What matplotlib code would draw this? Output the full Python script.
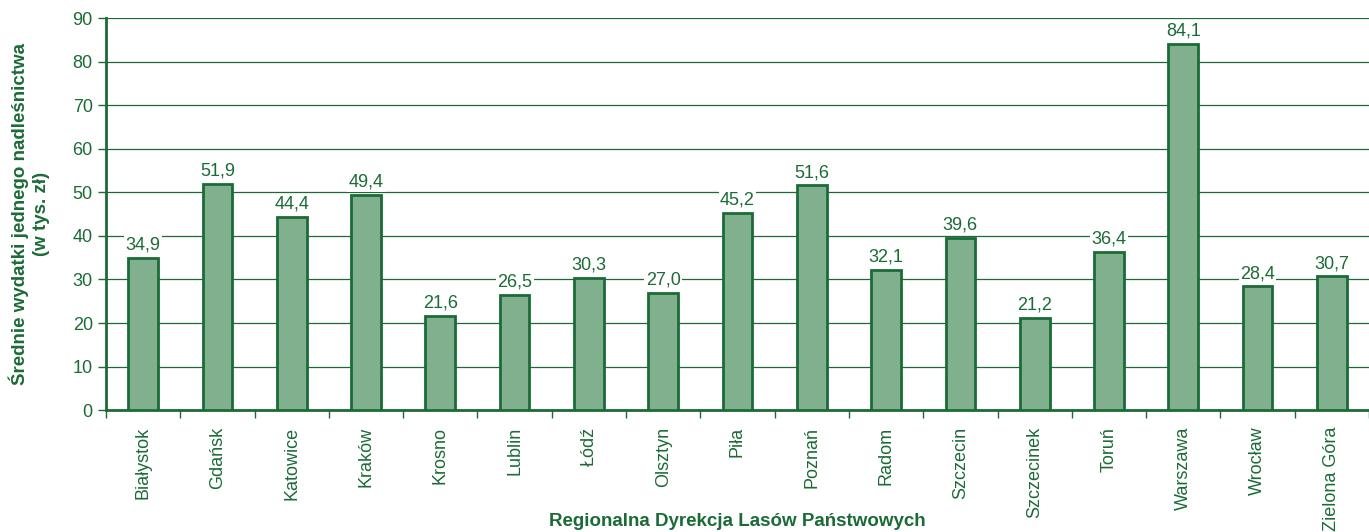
import numpy as np
import matplotlib.pyplot as plt

# dane z wykresu
regions = ['Białystok', 'Gdańsk', 'Katowice', 'Kraków', 'Krosno', 'Lublin', 'Łódź',
           'Olsztyn', 'Piła', 'Poznań', 'Radom', 'Szczecin', 'Szczecinek', 'Toruń',
           'Warszawa', 'Wrocław', 'Zielona Góra']
values = [34.9, 51.9, 44.4, 49.4, 21.6, 26.5, 30.3, 27.0, 45.2, 51.6, 32.1,
          39.6, 21.2, 36.4, 84.1, 28.4, 30.7]
yticks = [0, 10, 20, 30, 40, 50, 60, 70, 80, 90]

dark = '#1b6b37'
fill = '#80b08e'

plt.rcParams['font.family'] = ['Liberation Sans', 'DejaVu Sans']

fig = plt.figure(figsize=(13.69, 5.32), dpi=100)
ax = fig.add_axes([0.0774, 0.229, 0.9226, 0.737])

x = np.arange(len(regions))
ax.bar(x, values, width=0.4, color=fill, edgecolor=dark, linewidth=2, zorder=3)

for xi, v in zip(x, values):
    ax.text(xi, v + 1.0, f'{v:.1f}'.replace('.', ','), ha='center', va='bottom',
            fontsize=13, color=dark, zorder=4,
            bbox=dict(facecolor='white', edgecolor='none', pad=1))

ax.set_xlim(-0.5, len(regions) - 0.5)
ax.set_ylim(0, 90)
ax.set_yticks(yticks)
ax.tick_params(axis='y', colors=dark, labelsize=13, length=6, width=1, direction='out')
ax.yaxis.grid(True, color=dark, linewidth=0.9, zorder=0)

ax.set_xticks(x)
ax.set_xticklabels(regions, rotation=90, fontsize=13, color=dark)
ax.tick_params(axis='x', length=0, pad=12)
ax.set_xticks(np.arange(len(regions) + 1) - 0.5, minor=True)
ax.tick_params(axis='x', which='minor', length=6, width=1, color=dark)

for s in ['top', 'right']:
    ax.spines[s].set_visible(False)
for s in ['left', 'bottom']:
    ax.spines[s].set_color(dark)
    ax.spines[s].set_linewidth(2)

ax.set_ylabel('Średnie wydatki jednego nadleśnictwa\n(w tys. zł)', fontsize=13.5,
              fontweight='bold', color=dark, labelpad=16, linespacing=1.3)
ax.set_xlabel('Regionalna Dyrekcja Lasów Państwowych', fontsize=13.5,
              fontweight='bold', color=dark)
ax.xaxis.set_label_coords(0.5, -0.262)

fig.savefig('out.png', dpi=100)
